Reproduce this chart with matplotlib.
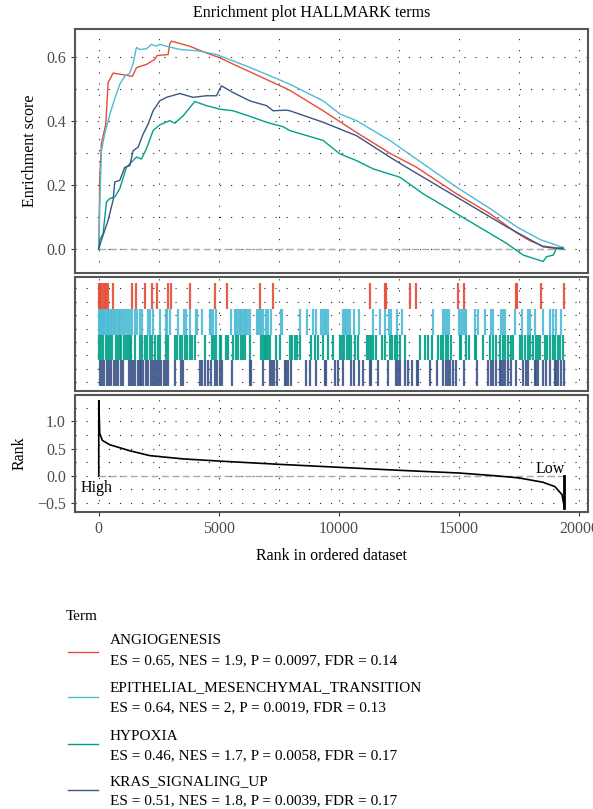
import matplotlib
matplotlib.use("Agg")
import matplotlib.pyplot as plt
from matplotlib.lines import Line2D
import numpy as np

plt.rcParams['font.family'] = ['Liberation Serif', 'DejaVu Serif']

# gene set names, stats, colours (npg)
terms = ['ANGIOGENESIS', 'EPITHELIAL_MESENCHYMAL_TRANSITION', 'HYPOXIA', 'KRAS_SIGNALING_UP']
stats = ['ES = 0.65, NES = 1.9, P = 0.0097, FDR = 0.14',
         'ES = 0.64, NES = 2, P = 0.0019, FDR = 0.13',
         'ES = 0.46, NES = 1.7, P = 0.0058, FDR = 0.17',
         'ES = 0.51, NES = 1.8, P = 0.0039, FDR = 0.17']
colors = ['#E64B35', '#4DBBD5', '#00A087', '#3C5488']

# running enrichment score
angio_x = [0, 42, 111, 292, 389, 597, 1403, 1569, 1986, 2333, 2431, 2889, 2958, 3028, 3792, 4486,
           5042, 5597, 6292, 6986, 7681, 7958, 9347, 10736, 11917, 12125, 13236, 14903, 16292,
           17403, 17958, 18514, 19069, 19347]
angio_y = [0, 0.22, 0.33, 0.39, 0.52, 0.55, 0.54, 0.567, 0.577, 0.593, 0.605, 0.608, 0.642, 0.65,
           0.634, 0.613, 0.598, 0.578, 0.554, 0.53, 0.506, 0.496, 0.432, 0.364, 0.309, 0.299,
           0.255, 0.172, 0.110, 0.05, 0.025, 0.008, 0.003, 0.0]

emt_x = [0, 42, 111, 250, 458, 667, 875, 1083, 1292, 1431, 1569, 1708, 1986, 2194, 2403, 2542,
         2819, 3375, 4208, 4903, 5597, 6153, 6986, 7681, 7958, 9347, 10042, 10736, 12125, 13514,
         14903, 16292, 17403, 18375, 19069, 19347]
emt_y = [0, 0.13, 0.307, 0.36, 0.42, 0.47, 0.515, 0.54, 0.55, 0.58, 0.63, 0.624, 0.626, 0.64,
         0.634, 0.64, 0.634, 0.624, 0.619, 0.608, 0.588, 0.572, 0.546, 0.524, 0.515, 0.463,
         0.422, 0.401, 0.339, 0.266, 0.193, 0.126, 0.069, 0.029, 0.011, 0.003]

hyp_x = [0, 42, 181, 319, 458, 667, 875, 1153, 1569, 1778, 1986, 2264, 2542, 2958, 3167, 3514,
         4000, 4486, 5042, 5597, 6431, 6986, 7681, 7958, 9347, 10042, 10736, 11431, 12542, 13514,
         14903, 16292, 16986, 17681, 18514, 18653, 18931, 19069, 19347]
hyp_y = [0, 0.027, 0.048, 0.146, 0.157, 0.162, 0.188, 0.255, 0.287, 0.281, 0.313, 0.37, 0.388,
         0.401, 0.393, 0.416, 0.461, 0.448, 0.437, 0.432, 0.411, 0.396, 0.382, 0.37, 0.339,
         0.297, 0.276, 0.25, 0.224, 0.172, 0.11, 0.048, 0.017, -0.02, -0.04, -0.025, -0.02,
         0.001, 0.004]

kras_x = [0, 111, 250, 389, 597, 667, 875, 1083, 1292, 1431, 1639, 1847, 2056, 2264, 2542, 2819,
          3375, 3931, 4486, 4903, 5111, 5597, 6292, 6986, 7264, 7819, 7958, 9347, 10736, 12125,
          12819, 14208, 15597, 16986, 17958, 18514, 19069, 19347]
kras_y = [0, 0.027, 0.058, 0.089, 0.152, 0.209, 0.214, 0.255, 0.26, 0.307, 0.318, 0.359, 0.39,
          0.432, 0.463, 0.474, 0.486, 0.474, 0.479, 0.479, 0.51, 0.489, 0.463, 0.448, 0.432,
          0.434, 0.432, 0.396, 0.354, 0.287, 0.255, 0.193, 0.131, 0.069, 0.029, 0.006, 0.001, 0.0]

# positions of gene hits in the ranked list
angio_hits = [0, 60, 110, 180, 250, 320, 400, 590, 1380, 1540, 1920, 2200, 2430, 2870, 3010, 3800,
              4830, 5340, 6730, 7270, 11280, 11910, 11950, 12970, 13230, 14950, 15230, 17400,
              17440, 18420, 19400]
emt_hits = [0, 40, 80, 120, 170, 220, 270, 330, 380, 440, 500, 560, 620, 690, 760, 830, 900, 980,
            1060, 1140, 1220, 1300, 1400, 1500, 1600, 1708, 1820, 2056, 2153, 2264, 2542, 2792,
            2847, 2986, 3306, 3542, 3653, 3820, 4042, 4097, 4319, 4625, 4694, 4764, 4875, 5528,
            5667, 5736, 5806, 5875, 5944, 6014, 6083, 6153, 6222, 6292, 6597, 6653, 6708, 6778,
            6847, 6986, 7056, 7194, 7611, 7653, 8375, 8681, 8931, 9069, 9278, 9347, 9417, 9486,
            9556, 10181, 10250, 10319, 10389, 10458, 10625, 10847, 11431, 11708, 11917, 12097,
            12194, 12403, 12611, 13931, 14333, 14403, 14486, 14597, 15000, 15097, 15167, 15236,
            15306, 15653, 15792, 16069, 16347, 16417, 16764, 16833, 16903, 17319, 17639, 17875,
            17972, 18153, 18500, 18778, 18917, 19056, 19264]
hyp_hits = [14, 111, 181, 292, 389, 458, 569, 736, 806, 875, 944, 1042, 1125, 1222, 1292, 1361,
            1500, 1708, 1820, 1917, 2014, 2125, 2236, 2333, 2472, 2542, 2792, 2889, 3167, 3264,
            3375, 3486, 3583, 3694, 3792, 3903, 4000, 4417, 4736, 4819, 4903, 5042, 5111, 5319,
            5389, 5597, 5708, 5806, 5944, 6014, 6083, 6292, 6778, 6847, 6917, 6986, 7056, 7125,
            7403, 7542, 7958, 8069, 8167, 8264, 8375, 8861, 9000, 9139, 9347, 9556, 9764, 10042,
            10139, 10236, 10333, 10431, 10528, 10667, 10806, 11153, 11264, 11361, 11431, 11569,
            11778, 11917, 12125, 12236, 12333, 12403, 12542, 12750, 13375, 13583, 13722, 13861,
            14139, 14236, 14333, 14444, 14542, 14681, 15028, 15097, 15306, 15417, 15653, 15722,
            16000, 16306, 16417, 16528, 16694, 16833, 16903, 17042, 17181, 17250, 17528, 17639,
            17750, 17861, 17972, 18083, 18194, 18292, 18361, 18569, 18681, 18792, 18903, 19014,
            19125, 19222, 19333]
kras_hits = [42, 139, 236, 333, 431, 528, 625, 736, 806, 944, 1014, 1250, 1333, 1417, 1500, 1639,
             1708, 1778, 1847, 1986, 2056, 2194, 2264, 2347, 2431, 2514, 2611, 2708, 2819, 2889,
             3167, 3444, 3514, 4208, 4319, 4431, 4542, 4694, 4833, 4931, 5042, 5153, 5569, 6292,
             6361, 6847, 7125, 7222, 7319, 7417, 7750, 7819, 7889, 8028, 8625, 8792, 9069, 9417,
             9486, 9833, 9972, 10181, 10528, 10625, 10847, 11014, 11292, 11361, 11639, 12056,
             12375, 12458, 12542, 12750, 12889, 13028, 13236, 13306, 13792, 14069, 14347, 14458,
             14556, 14611, 14750, 14889, 15194, 15750, 16208, 16319, 16431, 16556, 16694, 16764,
             16833, 16903, 17042, 17181, 17389, 17667, 17778, 17875, 18153, 18222, 18292, 18500,
             18639, 18778, 18986, 19056, 19125, 19264, 19361]

# ranked list metric
rank_x = [0, 0, 40, 150, 460, 1290, 2125, 3500, 5000, 7500, 10000, 12500, 15000, 16500, 17500,
          18500, 19000, 19300, 19400]
rank_y = [0, 1.38, 0.78, 0.65, 0.57, 0.46, 0.37, 0.31, 0.27, 0.21, 0.155, 0.10, 0.05, 0.0, -0.04,
          -0.12, -0.2, -0.35, -0.6]
n_genes = 19400

es_x = [angio_x, emt_x, hyp_x, kras_x]
es_y = [angio_y, emt_y, hyp_y, kras_y]
hits = [angio_hits, emt_hits, hyp_hits, kras_hits]

W, H = 593, 809
fig = plt.figure(figsize=(W / 100, H / 100), dpi=100)

def box(l, t, r, b):
    return [l / W, 1 - b / H, (r - l) / W, (b - t) / H]

ax1 = fig.add_axes(box(75, 29, 588, 273))
ax2 = fig.add_axes(box(75, 277, 588, 391))
ax3 = fig.add_axes(box(75, 395, 588, 512))

xlim = (-990, 20380)
dot = (0, (1, 9))
txt_col = '#4D4D4D'
fs = 11.5

for ax in (ax1, ax2, ax3):
    ax.set_xlim(*xlim)
    for s in ax.spines.values():
        s.set_color('#555555')
        s.set_linewidth(1.5)
    ax.set_xticks([0, 5000, 10000, 15000, 20000])
    ax.set_xticks([2500, 7500, 12500, 17500], minor=True)
    ax.grid(True, which='both', color='#222222', linestyle=dot, linewidth=0.8)
    ax.set_axisbelow(True)
    ax.tick_params(axis='both', which='both', colors='#333333', labelcolor=txt_col,
                   labelsize=fs, length=3, width=0.8)
    ax.tick_params(which='minor', length=0)

# top: running ES
for x, y, c in zip(es_x, es_y, colors):
    ax1.plot(x, y, color=c, lw=1.0)
ax1.plot([0, n_genes], [0, 0], color='#AAAAAA', lw=1.0, linestyle=(0, (5, 2.5)), zorder=1)
ax1.set_ylim(-0.076, 0.688)
ax1.set_yticks([0.0, 0.2, 0.4, 0.6])
ax1.set_yticklabels(['0.0', '0.2', '0.4', '0.6'])
ax1.set_yticks([0.1, 0.3, 0.5], minor=True)
ax1.tick_params(axis='x', length=0, labelbottom=False)
ax1.set_ylabel('Enrichment score', fontsize=fs)
ax1.yaxis.set_label_coords(-0.073, 0.5)

# middle: hit ticks
for i, (h, c) in enumerate(zip(hits, colors)):
    ax2.vlines(h, 3 - i, 4 - i, color=c, lw=1.6, alpha=0.9)
ax2.set_ylim(-0.19, 4.23)
ax2.set_yticks([0.16, 0.68, 1.20, 1.72, 2.23, 2.75, 3.27, 3.79])
ax2.tick_params(axis='both', length=0, labelleft=False, labelbottom=False)

# bottom: ranked list
ax3.plot(rank_x, rank_y, color='black', lw=1.2)
ax3.plot([n_genes, n_genes], [0, rank_y[-1]], color='black', lw=2.0)
ax3.plot([0, n_genes], [0, 0], color='#AAAAAA', lw=1.0, linestyle=(0, (5, 2.5)), zorder=1)
ax3.set_ylim(-0.668, 1.486)
ax3.set_yticks([-0.5, 0.0, 0.5, 1.0])
ax3.set_yticklabels(['\u22120.5', '0.0', '0.5', '1.0'])
ax3.set_yticks([-0.25, 0.25, 0.75, 1.25], minor=True)
ax3.set_xticklabels(['0', '5000', '10000', '15000', '20000'])
ax3.text(-80, -0.23, 'High', ha='center', va='center', fontsize=fs)
ax3.text(18800, 0.125, 'Low', ha='center', va='center', fontsize=fs)
ax3.set_ylabel('Rank', fontsize=fs)
ax3.yaxis.set_label_coords(-0.093, 0.5)
ax3.set_xlabel('Rank in ordered dataset', fontsize=fs)
ax3.xaxis.set_label_coords(0.5, -0.31)

fig.text(312 / W, 1 - 13 / H, 'Enrichment plot HALLMARK terms', ha='center', va='center',
         fontsize=fs)

# legend
lfs = 11
fig.text(66 / W, 1 - 616 / H, 'Term', ha='left', va='center', fontsize=lfs)
line_y = [652, 697, 744, 790]
name_y = [640, 688, 736, 782]
stat_y = [661, 708, 756, 801]
for i in range(4):
    fig.add_artist(Line2D([68 / W, 98 / W], [1 - line_y[i] / H] * 2, color=colors[i], lw=1.0))
    fig.text(110 / W, 1 - name_y[i] / H, terms[i], ha='left', va='center', fontsize=lfs)
    fig.text(110 / W, 1 - stat_y[i] / H, stats[i], ha='left', va='center', fontsize=lfs)

fig.savefig('out.png', dpi=100)
